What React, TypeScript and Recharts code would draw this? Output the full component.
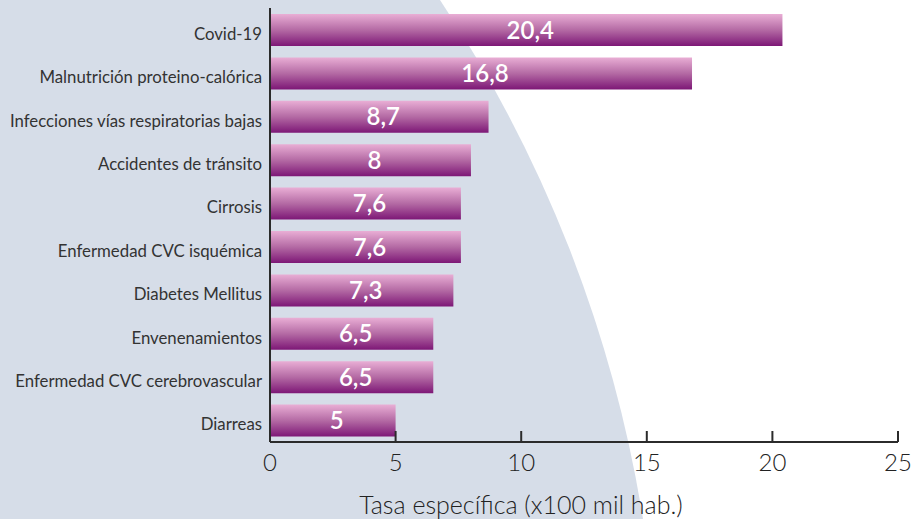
import React from 'react';
import { BarChart, Bar, XAxis, YAxis, LabelList, Label } from 'recharts';

const categories = [
  'Covid-19',
  'Malnutrición proteino-calórica',
  'Infecciones vías respiratorias bajas',
  'Accidentes de tránsito',
  'Cirrosis',
  'Enfermedad CVC isquémica',
  'Diabetes Mellitus',
  'Envenenamientos',
  'Enfermedad CVC cerebrovascular',
  'Diarreas',
];
const values = [20.4, 16.8, 8.7, 8, 7.6, 7.6, 7.3, 6.5, 6.5, 5];
const xTicks = [0, 5, 10, 15, 20, 25];
const axisTitle = 'Tasa específica (x100 mil hab.)';

const data = categories.map((name, i) => ({ name, value: values[i] }));

const FONT = 'Lato, "Noto Sans", sans-serif';

const XTick = (props: any) => {
  const { x, y, payload } = props;
  return (
    <g>
      <line x1={x} x2={x} y1={y} y2={y - 11} stroke="#2b2b2b" strokeWidth={2} />
      <text x={x} y={y + 29} textAnchor="middle" fontFamily={FONT} fontSize={24} fontWeight={300} fill="#222">
        {payload.value}
      </text>
    </g>
  );
};

const YTick = (props: any) => {
  const { x, y, payload } = props;
  return (
    <text x={x} y={y + 10} textAnchor="end" fontFamily={FONT} fontSize={16.8} fill="#333">
      {payload.value}
    </text>
  );
};

export default function App() {
  return (
    <div style={{ position: 'absolute', left: 0, top: 0, width: 912, height: 519, background: '#ffffff' }}>
      <svg width={912} height={519} style={{ position: 'absolute', left: 0, top: 0 }}>
        <path d="M0,0 L440,0 A1313,1313 0 0 1 643,519 L0,519 Z" fill="#d6dde8" />
      </svg>
      <div style={{ position: 'absolute', left: 0, top: 0 }}>
        <BarChart
          width={912}
          height={519}
          data={data}
          layout="vertical"
          margin={{ top: 8, right: 14, bottom: 0, left: 0 }}
          barSize={32}
        >
          <defs>
            <linearGradient id="barGrad" x1="0" y1="0" x2="0" y2="1">
              <stop offset="0%" stopColor="#e9aed5" />
              <stop offset="50%" stopColor="#b46aa4" />
              <stop offset="100%" stopColor="#7d1776" />
            </linearGradient>
          </defs>
          <XAxis
            type="number"
            domain={[0, 25]}
            ticks={xTicks}
            height={77}
            tickLine={false}
            tickSize={0}
            tickMargin={0}
            tick={<XTick />}
            axisLine={{ stroke: '#2b2b2b', strokeWidth: 2 }}
            interval={0}
          >
            <Label
              value={axisTitle}
              position="insideBottom"
              offset={5}
              dx={-63}
              style={{ fontFamily: FONT, fontSize: 25, fontWeight: 300, fill: '#222' }}
            />
          </XAxis>
          <YAxis
            type="category"
            dataKey="name"
            width={270}
            tickLine={false}
            tickSize={0}
            tickMargin={8}
            axisLine={{ stroke: '#2b2b2b', strokeWidth: 2 }}
            tick={<YTick />}
            interval={0}
          />
          <Bar dataKey="value" fill="url(#barGrad)" isAnimationActive={false}>
            <LabelList
              dataKey="value"
              position="center"
              offset={0}
              dx={4}
              formatter={(v: any) => String(v).replace('.', ',')}
              style={{ fontFamily: FONT, fontSize: 24, fontWeight: 600, fill: '#ffffff' }}
            />
          </Bar>
        </BarChart>
      </div>
    </div>
  );
}
